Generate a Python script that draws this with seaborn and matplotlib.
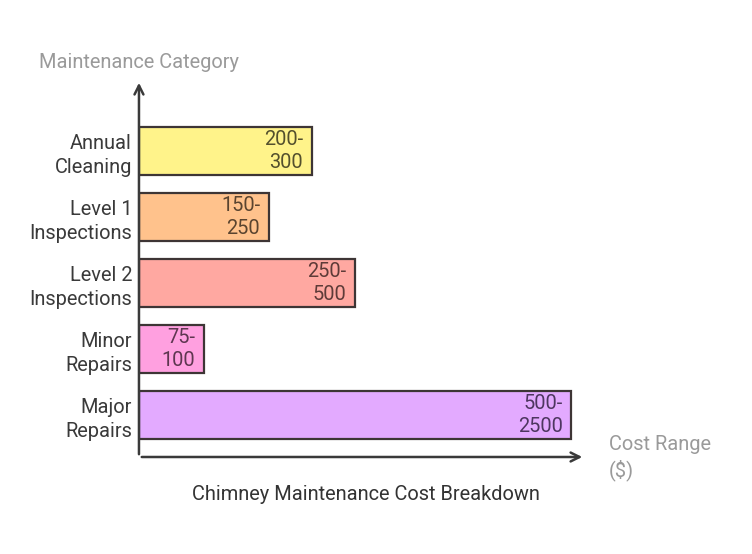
import pandas as pd
import matplotlib.pyplot as plt
import seaborn as sns

# ---------------------------------
# Chart Data
# ---------------------------------

categories = [
    "Annual\nCleaning",
    "Level 1\nInspections",
    "Level 2\nInspections",
    "Minor\nRepairs",
    "Major\nRepairs",
]

# relative bar lengths as drawn
bar_lengths = [4, 3, 5, 1.5, 10]

cost_labels = ["200-\n300", "150-\n250", "250-\n500", "75-\n100", "500-\n2500"]

fill_colors = ["#FFF38A", "#FFC28C", "#FFA8A1", "#FFA0E0", "#E3AAFF"]
text_colors = ["#54502d", "#5a442f", "#5e3b38", "#5e3650", "#4e3660"]

df = pd.DataFrame({"category": categories, "length": bar_lengths})

# ---------------------------------
# Plot
# ---------------------------------

sns.set_style("white")
plt.rcParams["font.family"] = ["Roboto", "DejaVu Sans"]

fig = plt.figure(figsize=(7.52, 5.54), dpi=100)
ax = fig.add_axes([0.1848, 0.1751, 0.5932, 0.6805])

sns.barplot(
    data=df,
    x="length",
    y="category",
    hue="category",
    palette=fill_colors,
    saturation=1,
    orient="h",
    width=0.727,
    edgecolor="#3d3535",
    linewidth=1.6,
    legend=False,
    ax=ax,
)

# ---------------------------------
# Bar Labels
# ---------------------------------

for i, (length, label) in enumerate(zip(bar_lengths, cost_labels)):
    ax.text(
        length - 0.2,
        i,
        label,
        ha="right",
        va="center",
        fontsize=14.4,
        color=text_colors[i],
        linespacing=1.32,
    )

ax.set_xlim(0, 10.32)
ax.set_ylim(4.636, -1.076)

for side in ["top", "right", "bottom", "left"]:
    ax.spines[side].set_visible(False)

ax.set_xticks([])
ax.set_xlabel("")
ax.set_ylabel("")
ax.tick_params(axis="y", length=0, pad=5, labelsize=14.4, labelcolor="#3a3a3a")
for t in ax.get_yticklabels():
    t.set_linespacing(1.32)

# ---------------------------------
# Axis Arrows
# ---------------------------------

arrow_style = dict(arrowstyle="->", color="#3a3a3a", lw=1.8, mutation_scale=16)

ax.annotate("", xy=(1.0, 0.0), xytext=(0.0, 0.0),
            xycoords="axes fraction", arrowprops=arrow_style)
ax.annotate("", xy=(0.0, 1.0), xytext=(0.0, 0.0),
            xycoords="axes fraction", arrowprops=arrow_style)

# ---------------------------------
# Titles
# ---------------------------------

fig.text(39 / 752, 1 - 62 / 554, "Maintenance Category",
         ha="left", va="center", fontsize=14.4, color="#9a9a9a")

fig.text(609 / 752, 1 - 458 / 554, "Cost Range\n($)",
         ha="left", va="center", fontsize=14.4, color="#9a9a9a", linespacing=1.32)

fig.text(366 / 752, 1 - 494 / 554, "Chimney Maintenance Cost Breakdown",
         ha="center", va="center", fontsize=14.4, color="#333333")

fig.savefig("out.png", dpi=100)
